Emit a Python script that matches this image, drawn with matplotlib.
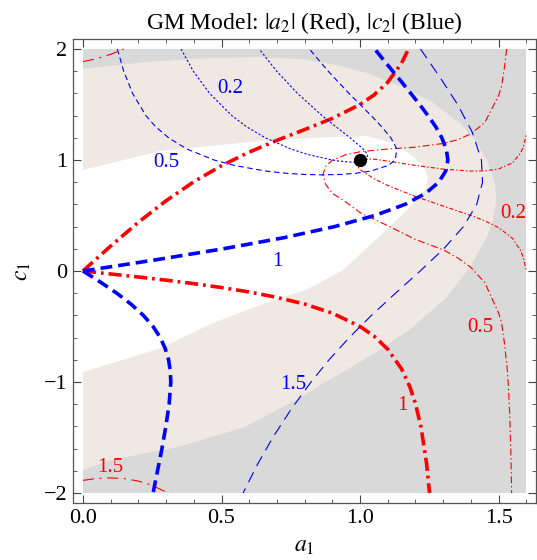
import numpy as np
import matplotlib
matplotlib.use("Agg")
import matplotlib.pyplot as plt

plt.rcParams['font.family'] = ['Liberation Serif', 'DejaVu Serif']
plt.rcParams['mathtext.fontset'] = 'stix'
plt.rcParams['lines.scale_dashes'] = False

# ---- shaded regions (a1, c1) ----
beige_a1 = [0, 0.224, 0.462, 0.639, 0.783, 0.903, 1.025, 1.144, 1.264, 1.361, 1.422, 1.458,
            1.487, 1.491, 1.480, 1.458, 1.397, 1.314, 1.191, 1.072, 0.964, 0.856, 0.783,
            0.585, 0.343, 0.101, 0]
beige_c1 = [1.820, 1.883, 1.919, 1.928, 1.910, 1.865, 1.784, 1.667, 1.514, 1.333, 1.153, 1.0,
            0.793, 0.640, 0.459, 0.306, 0.036, -0.234, -0.505, -0.712, -0.874, -1.027, -1.144,
            -1.405, -1.586, -1.703, -1.793]
white_a1 = [0, 0.278, 0.639, 0.903, 1.025, 1.119, 1.191, 1.231, 1.245, 1.235, 1.181, 1.083,
            0.939, 0.812, 0.639, 0.462, 0.282, 0]
white_c1 = [0.910, 1.081, 1.171, 1.207, 1.216, 1.153, 1.036, 0.928, 0.847, 0.730, 0.577, 0.342,
            0.009, -0.162, -0.306, -0.477, -0.694, -0.910]

# ---- |a2| contours (red) ----
r02_up_a1 = [0.98, 1.0, 1.05, 1.1, 1.2, 1.3, 1.4, 1.45, 1.5, 1.55, 1.58, 1.59, 1.6]
r02_up_c1 = [0.98, 1.011, 1.007, 0.990, 0.951, 0.918, 0.900, 0.902, 0.919, 0.974, 1.065, 1.126, 1.231]
r02_lo_a1 = [0.98, 1.0, 1.05, 1.1, 1.2, 1.3, 1.4, 1.45, 1.5, 1.55, 1.58, 1.59, 1.6]
r02_lo_c1 = [0.98, 0.912, 0.832, 0.770, 0.671, 0.585, 0.500, 0.452, 0.391, 0.295, 0.181, 0.112, 0.0]
r05_a1 = [1.529, 1.525, 1.52, 1.51, 1.5, 1.45, 1.4, 1.35, 1.3, 1.2, 1.1, 1.0, 0.95, 0.9, 0.875,
          0.866, 0.875, 0.9, 0.95, 1.0, 1.1, 1.2, 1.3, 1.35, 1.4, 1.45, 1.5, 1.51, 1.52, 1.53,
          1.535, 1.54, 1.545, 1.547]
r05_c1 = [2.0, 1.911, 1.816, 1.656, 1.580, 1.337, 1.235, 1.181, 1.149, 1.116, 1.099, 1.074, 1.049,
          0.998, 0.940, 0.866, 0.783, 0.700, 0.619, 0.526, 0.408, 0.284, 0.191, 0.122, 0.032,
          -0.104, -0.380, -0.457, -0.628, -0.854, -1.026, -1.281, -1.715, -2.0]
r1_up_a1 = [0, 0.05, 0.1, 0.2, 0.3, 0.4, 0.5, 0.6, 0.7, 0.8, 0.9, 1.0, 1.05, 1.1, 1.15, 1.175]
r1_up_c1 = [0, 0.113, 0.225, 0.439, 0.633, 0.804, 0.949, 1.071, 1.177, 1.274, 1.375, 1.5, 1.585,
            1.701, 1.873, 2.0]
r1_lo_a1 = [0, 0.1, 0.2, 0.3, 0.4, 0.5, 0.6, 0.7, 0.8, 0.9, 1.0, 1.05, 1.1, 1.15, 1.18, 1.2,
            1.22, 1.24, 1.25, 1.251]
r1_lo_c1 = [0, -0.027, -0.054, -0.083, -0.114, -0.149, -0.189, -0.238, -0.298, -0.380, -0.5,
            -0.586, -0.705, -0.883, -1.045, -1.195, -1.406, -1.733, -1.980, -2.0]
r15_up_a1 = [0.0, 0.05, 0.1, 0.147]
r15_up_c1 = [1.886, 1.913, 1.952, 2.0]
r15_lo_a1 = [0.0, 0.05, 0.1, 0.15, 0.2, 0.25, 0.3, 0.302]
r15_lo_c1 = [-1.886, -1.869, -1.864, -1.871, -1.892, -1.931, -1.992, -2.0]

# ---- |c2| contours (blue) ----
b02_a1 = [0.354, 0.398, 0.457, 0.537, 0.590, 0.658, 0.749, 0.811, 0.899, 0.925, 0.973, 0.98,
          0.986, 1.016, 1.024, 1.027, 1.011, 0.964, 0.913, 0.863, 0.774, 0.699, 0.636]
b02_c1 = [2.0, 1.8, 1.6, 1.4, 1.3, 1.2, 1.1, 1.05, 1.0, 0.99, 0.98, 0.98, 0.98, 0.99, 1.0, 1.05,
          1.1, 1.2, 1.3, 1.4, 1.6, 1.8, 2.0]
b05_a1 = [0.124, 0.147, 0.179, 0.227, 0.262, 0.309, 0.374, 0.473, 0.548, 0.660, 0.735, 0.797,
          0.866, 0.931, 0.984, 1.038, 1.101, 1.127, 1.133, 1.111, 1.078, 1.040, 0.960, 0.885, 0.817]
b05_c1 = [2.0, 1.8, 1.6, 1.4, 1.3, 1.2, 1.1, 1.0, 0.95, 0.9, 0.88, 0.87, 0.866, 0.87, 0.88, 0.9,
          0.95, 1.0, 1.1, 1.2, 1.3, 1.4, 1.6, 1.8, 2.0]
b1_up_a1 = [0, 0.131, 0.261, 0.506, 0.725, 0.908, 1.053, 1.162, 1.237, 1.284, 1.309, 1.317, 1.311,
            1.295, 1.273, 1.245, 1.215, 1.183, 1.151, 1.118, 1.085, 1.053]
b1_up_c1 = [0, 0.05, 0.1, 0.2, 0.3, 0.4, 0.5, 0.6, 0.7, 0.8, 0.9, 1.0, 1.1, 1.2, 1.3, 1.4, 1.5,
            1.6, 1.7, 1.8, 1.9, 2.0]
b1_lo_a1 = [0, 0.063, 0.122, 0.174, 0.218, 0.253, 0.279, 0.297, 0.309, 0.315, 0.317, 0.311,
            0.299, 0.285, 0.269, 0.253]
b1_lo_c1 = [0, -0.1, -0.2, -0.3, -0.4, -0.5, -0.6, -0.7, -0.8, -0.9, -1.0, -1.2, -1.4, -1.6,
            -1.8, -2.0]
b15_a1 = [1.218, 1.287, 1.352, 1.405, 1.438, 1.442, 1.421, 1.373, 1.302, 1.217, 1.128, 1.041,
          0.961, 0.888, 0.823, 0.750, 0.685, 0.628, 0.578]
b15_c1 = [2.0, 1.75, 1.5, 1.25, 1.0, 0.8, 0.6, 0.4, 0.2, 0.0, -0.2, -0.4, -0.6, -0.8, -1.0,
          -1.25, -1.5, -1.75, -2.0]

# contour labels: (text, a1, c1, colour)
labels = [("0.2", 0.531, 1.64, 'blue'), ("0.5", 0.30, 0.98, 'blue'), ("1", 0.70, 0.09, 'blue'),
          ("1.5", 0.758, -1.02, 'blue'), ("0.2", 1.552, 0.52, 'red'), ("0.5", 1.433, -0.51, 'red'),
          ("1", 1.152, -1.21, 'red'), ("1.5", 0.10, -1.77, 'red')]

fig = plt.figure(figsize=(5.37, 5.6), dpi=100)
ax = fig.add_axes([73/537, 1 - 503/560, 463/537, 464/560])

ax.fill([0, 1.6, 1.6, 0], [-2, -2, 2, 2], color='#d9d9d9', lw=0, zorder=0)
ax.fill(beige_a1, beige_c1, color='#f0e8e2', lw=0, zorder=1)
ax.fill(white_a1, white_c1, color='white', lw=0, zorder=2)

thin, thick = 0.8, 2.6
red_02 = dict(color='red', lw=thin, ls=(0, (3, 1.5, 1, 1.5)), zorder=3)
red_05 = dict(color='red', lw=thin, ls=(0, (5, 2, 1, 2)), zorder=3)
red_1 = dict(color='red', lw=thick, ls=(0, (9.5, 3.5, 2, 3.5)), zorder=3)
red_15 = dict(color='red', lw=thin, ls=(0, (8, 4, 1.5, 4)), zorder=3)
ax.plot(r02_up_a1, r02_up_c1, **red_02)
ax.plot(r02_lo_a1, r02_lo_c1, **red_02)
ax.plot(r05_a1, r05_c1, **red_05)
ax.plot(r1_up_a1, r1_up_c1, **red_1)
ax.plot(r1_lo_a1, r1_lo_c1, **red_1)
ax.plot(r15_up_a1, r15_up_c1, **red_15)
ax.plot(r15_lo_a1, r15_lo_c1, **red_15)

ax.plot(b02_a1, b02_c1, color='blue', lw=thin, ls=(0, (1.6, 1.4)), zorder=3)
ax.plot(b05_a1, b05_c1, color='blue', lw=thin, ls=(0, (4, 2.5)), zorder=3)
ax.plot(b1_up_a1, b1_up_c1, color='blue', lw=thick, ls=(0, (8.5, 4.3)), zorder=3)
ax.plot(b1_lo_a1, b1_lo_c1, color='blue', lw=thick, ls=(0, (8.5, 4.3)), zorder=3)
ax.plot(b15_a1, b15_c1, color='blue', lw=thin, ls=(0, (8, 5)), zorder=3)

for txt, x, y, col in labels:
    ax.text(x, y, txt, color=col, fontsize=15, ha='center', va='center', zorder=4)

ax.plot([1.0], [1.0], 'o', color='black', ms=8.5, zorder=5)

ax.set_xlim(-0.036, 1.635)
ax.set_ylim(-2.09, 2.09)
ax.set_xticks([0, 0.5, 1.0, 1.5])
ax.set_xticklabels(['0.0', '0.5', '1.0', '1.5'])
ax.set_xticks(np.arange(0, 1.61, 0.1), minor=True)
ax.set_yticks([-2, -1, 0, 1, 2])
ax.set_yticklabels(['\u22122', '\u22121', '0', '1', '2'])
ax.set_yticks(np.arange(-2, 2.01, 0.2), minor=True)
ax.tick_params(which='both', direction='in', top=True, right=True, labelsize=16, color='#444444')
ax.tick_params(which='major', length=5.5, width=0.8, pad=4)
ax.tick_params(which='minor', length=3, width=0.6)
for s in ax.spines.values():
    s.set_color('#555555')
    s.set_linewidth(0.9)

ax.set_title(r'GM Model: $|a_2|$ (Red), $|c_2|$ (Blue)', fontsize=17, pad=7)
ax.set_xlabel(r'$a_1$', fontsize=17, labelpad=6)
ax.set_ylabel(r'$c_1$', fontsize=17, labelpad=8)

fig.savefig('out.png', dpi=100)
